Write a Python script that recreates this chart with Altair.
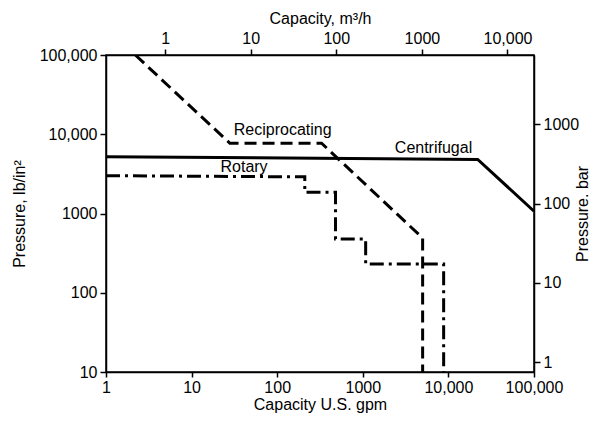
import altair as alt
import pandas as pd

# Capacity (U.S. gpm) and pressure (lb/in^2)
cent_gpm = [1, 22000, 100000]
cent_psi = [5200, 4800, 1070]

recip_gpm = [2.2, 28, 330, 5000, 5000]
recip_psi = [100000, 7700, 7700, 490, 10]

rot_gpm = [1, 210, 210, 480, 480, 1080, 1080, 8800, 8800]
rot_psi = [3000, 2900, 1850, 1850, 475, 475, 230, 230, 10]

label_text = ["Reciprocating", "Centrifugal", "Rotary"]
label_gpm = [116, 6700, 41]
label_psi = [11300, 6700, 3850]

bottom_ticks = [1, 10, 100, 1000, 10000, 100000]
left_ticks = [10, 100, 1000, 10000, 100000]
top_ticks = [1, 10, 100, 1000, 10000]
right_ticks = [1, 10, 100, 1000]

GPM_PER_M3H = 4.9
PSI_PER_BAR = 13.3

FONT = "Liberation Sans"
label_expr = "datum.value >= 10000 ? format(datum.value, ',') : format(datum.value, 'd')"

def series_df(gpm, psi):
    return pd.DataFrame({"gpm": gpm, "psi": psi, "ord": list(range(len(gpm)))})

xs = alt.Scale(type="log", domain=[1, 100000], nice=False)
ys = alt.Scale(type="log", domain=[10, 100000], nice=False)

x_main = alt.X("gpm:Q", scale=xs,
               axis=alt.Axis(values=bottom_ticks, labelExpr=label_expr,
                             tickSize=5, labelPadding=2,
                             title="Capacity U.S. gpm", titlePadding=1))
y_main = alt.Y("psi:Q", scale=ys,
               axis=alt.Axis(values=left_ticks, labelExpr=label_expr,
                             title="Pressure, lb/in²", titlePadding=12))

cent = alt.Chart(series_df(cent_gpm, cent_psi)).mark_line(
    color="black", strokeWidth=3, clip=True
).encode(x=x_main, y=y_main, order="ord:Q")

recip = alt.Chart(series_df(recip_gpm, recip_psi)).mark_line(
    color="black", strokeWidth=3, strokeDash=[12, 6], clip=True
).encode(x="gpm:Q", y="psi:Q", order="ord:Q")

rot = alt.Chart(series_df(rot_gpm, rot_psi)).mark_line(
    color="black", strokeWidth=3, strokeDash=[14, 5, 3, 5], clip=True
).encode(x="gpm:Q", y="psi:Q", order="ord:Q")

labels = alt.Chart(pd.DataFrame({"t": label_text, "gpm": label_gpm, "psi": label_psi})).mark_text(
    font=FONT, fontSize=16, color="black", baseline="middle", align="center"
).encode(x="gpm:Q", y="psi:Q", text="t:N")

main = alt.layer(cent, recip, rot, labels)

top = alt.Chart(pd.DataFrame({"m3h": top_ticks})).mark_point(opacity=0).encode(
    x=alt.X("m3h:Q",
            scale=alt.Scale(type="log", domain=[1 / GPM_PER_M3H, 100000 / GPM_PER_M3H], nice=False),
            axis=alt.Axis(orient="top", values=top_ticks, labelExpr=label_expr,
                          title="Capacity, m³/h", titlePadding=4))
)

right = alt.Chart(pd.DataFrame({"bar": right_ticks})).mark_point(opacity=0).encode(
    y=alt.Y("bar:Q",
            scale=alt.Scale(type="log", domain=[10 / PSI_PER_BAR, 100000 / PSI_PER_BAR], nice=False),
            axis=alt.Axis(orient="right", values=right_ticks, labelExpr=label_expr,
                          title="Pressure. bar", titleAngle=270, titlePadding=12))
)

chart = alt.layer(main, top, right).resolve_scale(
    x="independent", y="independent"
).properties(
    width=428, height=317,
    padding={"left": 98, "top": 47, "right": 60, "bottom": 46},
    autosize=alt.AutoSizeParams(type="none"),
    background="white",
).configure_view(
    stroke="black", strokeWidth=1.5
).configure_axis(
    grid=False, labelFlush=False, labelOverlap=False,
    domainColor="black", domainWidth=1.5,
    tickColor="black", tickWidth=1.5, tickSize=6,
    labelColor="black", labelFont=FONT, labelFontSize=16, labelPadding=3,
    titleColor="black", titleFont=FONT, titleFontSize=16, titleFontWeight="normal",
)

chart.save("out.html", embed_options={"renderer": "svg", "actions": False})
